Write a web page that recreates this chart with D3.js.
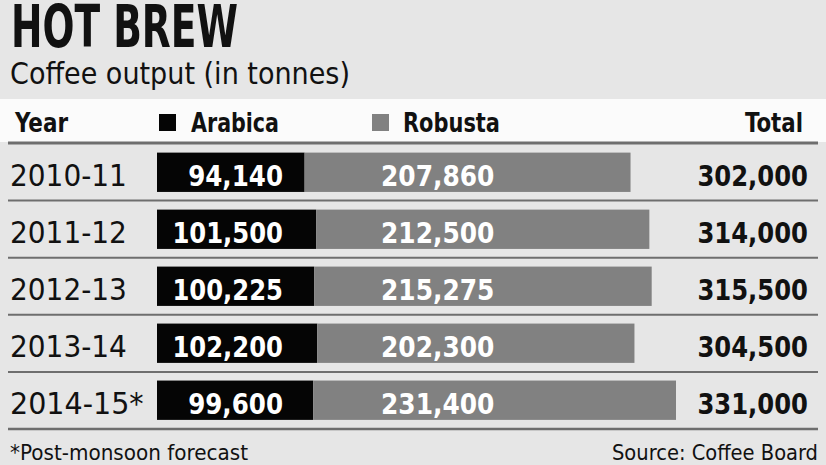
<!DOCTYPE html>
<html><head><meta charset="utf-8">
<script src="https://cdn.jsdelivr.net/npm/d3@7"></script>
<style>
html,body{margin:0;padding:0;background:#e6e6e6;}
svg{display:block;}
text{font-family:"DejaVu Sans Condensed","Liberation Sans Narrow",sans-serif;}
</style></head><body>
<svg id="c" width="826" height="465"></svg>
<script>
const years = ["2010-11","2011-12","2012-13","2013-14","2014-15*"];
const arabica = [94140, 101500, 100225, 102200, 99600];
const robusta = [207860, 212500, 215275, 202300, 231400];
const totals = [302000, 314000, 315500, 304500, 331000];
const seriesNames = ["Arabica","Robusta"];

const svg = d3.select("#c");
const fmt = d3.format(",");
const colA = "#050505", colR = "#818181", lineCol = "#6e6e6e", ink = "#111";

svg.append("rect").attr("width",826).attr("height",465).attr("fill","#e6e6e6");

function txt(x, yv, s, size, opts = {}) {
  const t = svg.append("text").attr("x",x).attr("y",yv).attr("font-size",size)
    .attr("fill",opts.fill || ink).attr("text-anchor",opts.anchor || "start")
    .attr("font-weight",opts.bold ? "bold" : "normal").text(s);
  if (opts.family) t.style("font-family", opts.family);
  if (opts.w) t.attr("textLength",opts.w).attr("lengthAdjust","spacingAndGlyphs");
  return t;
}

txt(11, 47, "HOT BREW", 58, {bold:true, w:227, family:'"Liberation Sans Narrow","DejaVu Sans Condensed",sans-serif'});
txt(10, 84, "Coffee output (in tonnes)", 30, {w:340});

// header band
svg.append("rect").attr("x",0).attr("y",99).attr("width",826).attr("height",43).attr("fill","#fbfbfb");
svg.append("line").attr("x1",8).attr("x2",818).attr("y1",143).attr("y2",143)
  .attr("stroke",lineCol).attr("stroke-width",3);

const hy = 132;
txt(15, hy, "Year", 27, {bold:true, w:53});
svg.append("rect").attr("x",159).attr("y",114).attr("width",17).attr("height",17).attr("fill",colA);
txt(191, hy, seriesNames[0], 27, {bold:true, w:88});
svg.append("rect").attr("x",372).attr("y",114).attr("width",17).attr("height",17).attr("fill",colR);
txt(403, hy, seriesNames[1], 27, {bold:true, w:97});
txt(803, hy, "Total", 27, {bold:true, w:58, anchor:"end"});

const x = d3.scaleLinear().domain([0, 331000]).range([157, 676]);
const y = d3.scaleBand().domain(years).range([143.5, 429]).paddingInner(0.31).paddingOuter(0.16);
const rowH = (429-143.5)/years.length;

years.forEach((yr,i)=>{
  const top = y(yr), h = y.bandwidth(), cy = top + h/2, base = cy + 14;
  svg.append("rect").attr("x",x(0)).attr("y",top).attr("width",x(arabica[i])-x(0)).attr("height",h).attr("fill",colA);
  svg.append("rect").attr("x",x(arabica[i])).attr("y",top).attr("width",x(arabica[i]+robusta[i])-x(arabica[i])).attr("height",h).attr("fill",colR);
  txt(10, base, yr, 30, {w: yr.length*16.7});
  const a = fmt(arabica[i]), r = fmt(robusta[i]), t = fmt(totals[i]);
  txt(283, base, a, 29, {bold:true, fill:"#fff", anchor:"end", w:a.length*15.8});
  txt(381, base, r, 29, {bold:true, fill:"#fff", w:r.length*16.2});
  txt(808, base, t, 29, {bold:true, anchor:"end", w:t.length*15.8});
  const ly = 143.5 + rowH*(i+1);
  svg.append("line").attr("x1",8).attr("x2",818).attr("y1",ly).attr("y2",ly)
    .attr("stroke",lineCol).attr("stroke-width",i===years.length-1?2.5:2);
});

txt(10, 460, "*Post-monsoon forecast", 21, {w:238});
txt(818, 460, "Source: Coffee Board", 21, {w:206, anchor:"end"});
</script></body></html>
